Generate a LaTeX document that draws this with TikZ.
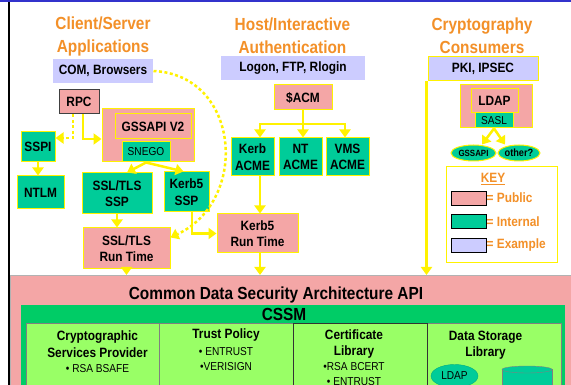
\documentclass[tikz,border=0pt]{standalone}
\usepackage{fontspec}
\setmainfont{Liberation Sans}[FakeStretch=0.88]
\usetikzlibrary{arrows.meta,shapes.geometric}

\definecolor{pubpink}{HTML}{F4A6A6}
\definecolor{intgreen}{HTML}{00CC99}
\definecolor{exblue}{HTML}{CCCCFF}
\definecolor{hdorange}{HTML}{F39028}
\definecolor{cssmgreen}{HTML}{00CC66}
\definecolor{libgreen}{HTML}{99FF66}
\definecolor{topblue}{HTML}{3333CC}

\newcommand{\boxfont}{\bfseries\fontsize{13.5}{16.5}\selectfont}
\newcommand{\smallfont}{\fontsize{11.5}{15}\selectfont}
\newcommand{\headfont}{\bfseries\fontsize{17.5}{23}\selectfont}

\tikzset{
  pubbox/.style={draw=yellow, line width=1pt, fill=pubpink, inner sep=0pt, align=center, font=\boxfont},
  intbox/.style={pubbox, fill=intgreen},
  exbox/.style={pubbox, draw=none, fill=exblue},
  heading/.style={text=hdorange, align=center, font=\headfont},
  arr/.style={draw=yellow, line width=2.5pt, -{Triangle[width=11pt,length=8pt]}},
  dotarr/.style={arr, dash pattern=on 3pt off 2.5pt},
  swatch/.style={draw=black, line width=0.8pt, minimum width=35pt, minimum height=14pt},
  keylabel/.style={text=hdorange, anchor=west, inner sep=0pt, font=\boxfont},
  cell/.style={draw=gray, line width=0.6pt, fill=libgreen, anchor=north west, minimum width=134pt, minimum height=80pt},
  celltext/.style={align=center, inner sep=0pt},
}

\begin{document}
\begin{tikzpicture}[x=1pt,y=-1pt]
  \useasboundingbox (0,0) rectangle (571,385);
  \clip (0,0) rectangle (571,385);
  \fill[white] (0,0) rectangle (571,385);
  \fill[topblue] (0,0) rectangle (571,2.5);
  \fill[black] (7.5,2.5) rectangle (10,385);

  % Column headings
  \node[heading] (hdcs) at (103,36) {Client/Server\\Applications};
  \node[heading] (hdhost) at (292.5,36) {Host/Interactive\\Authentication};
  \node[heading] (hdcrypt) at (482,36) {Cryptography\\Consumers};

  % Example applications
  \node[exbox, minimum width=100pt, minimum height=24pt] (com) at (103,71) {COM, Browsers};
  \node[exbox, minimum width=144pt, minimum height=24pt] (logon) at (293,68) {Logon, FTP, Rlogin};
  \node[exbox, draw=yellow, minimum width=110pt, minimum height=24pt] (pki) at (483,69) {PKI, IPSEC};

  % Client/server stack
  \node[pubbox, draw=black!75, minimum width=40pt, minimum height=24pt] (rpc) at (79,102) {RPC};
  \node[pubbox, minimum width=92pt, minimum height=53pt] (gssouter) at (148,135.5) {};
  \node[pubbox, minimum width=76pt, minimum height=25pt] (gssapi) at (153,126.5) {GSSAPI V2};
  \node[intbox, minimum width=48pt, minimum height=20pt, font=\smallfont] (snego) at (146,152) {SNEGO};
  \node[intbox, minimum width=34pt, minimum height=30pt] (sspi) at (38,147) {SSPI};
  \node[intbox, minimum width=47pt, minimum height=33pt] (ntlm) at (40.5,192.5) {NTLM};
  \node[intbox, minimum width=70pt, minimum height=41pt] (sslssp) at (117,193.5) {SSL/TLS\\SSP};
  \node[intbox, minimum width=45pt, minimum height=40pt] (kerbssp) at (186.5,192) {Kerb5\\SSP};
  \node[pubbox, minimum width=87pt, minimum height=41pt] (sslrt) at (126.5,248.5) {SSL/TLS\\Run Time};
  \node[pubbox, minimum width=81pt, minimum height=39pt] (kerbrt) at (257.5,233.5) {Kerb5\\Run Time};

  % Host authentication stack
  \node[pubbox, minimum width=58pt, minimum height=25pt] (acm) at (303,97.5) {\$ACM};
  \node[intbox, minimum width=43pt, minimum height=38pt] (kerbacme) at (252.5,157) {Kerb\\ACME};
  \node[intbox, minimum width=43pt, minimum height=38pt] (ntacme) at (300.5,157) {NT\\ACME};
  \node[intbox, minimum width=43pt, minimum height=38pt] (vmsacme) at (347.5,157) {VMS\\ACME};

  % Cryptography consumers
  \node[pubbox, minimum width=72pt, minimum height=43pt] (ldapouter) at (496,106.5) {};
  \node[pubbox, minimum width=47pt, minimum height=24pt] (ldap) at (494.5,101) {LDAP};
  \node[intbox, minimum width=38pt, minimum height=15pt, font=\smallfont] (sasl) at (494,120.5) {SASL};
  \node[intbox, ellipse, minimum width=45pt, minimum height=16pt, font=\bfseries\fontsize{9}{10}\selectfont] (gssell) at (473.5,153) {GSSAPI};
  \node[intbox, ellipse, minimum width=42pt, minimum height=16pt, font=\bfseries\fontsize{10.5}{11}\selectfont] (otherell) at (519,153) {other?};

  % Key
  \node[draw=yellow, line width=0.8pt, fill=white, minimum width=111pt, minimum height=96pt] (keybox) at (501.5,214) {};
  \node[text=hdorange, font=\boxfont, inner sep=0pt] (keytitle) at (493,179) {\underline{KEY}};
  \node[swatch, fill=pubpink] (keypub) at (468.5,198) {};
  \node[swatch, fill=intgreen] (keyint) at (468.5,221.5) {};
  \node[swatch, fill=exblue] (keyex) at (468.5,245.5) {};
  \node[keylabel] (lblpub) at (keypub.east) {= Public};
  \node[keylabel] (lblint) at (keyint.east) {= Internal};
  \node[keylabel] (lblex) at (keyex.east) {= Example};

  % CDSA / CSSM
  \node[draw=gray!60, line width=1pt, fill=pubpink, anchor=north west, minimum width=562pt, minimum height=120pt] (cdsa) at (10,275) {};
  \node[font=\headfont, inner sep=0pt] (cdsatitle) at (276,295) {Common Data Security Architecture API};
  \node[fill=cssmgreen, anchor=north west, minimum width=544pt, minimum height=90pt] (cssm) at (21,305) {};
  \node[font=\headfont, inner sep=0pt] (cssmtitle) at (284,314.5) {CSSM};
  \node[cell] (cellcsp) at (26,323) {};
  \node[cell] (celltp) at (159,323) {};
  \node[cell] (celldl) at (427,323) {};
  \node[cell, draw=black!80, line width=0.9pt] (cellcl) at (293,323) {};

  \node[celltext, font=\boxfont] (csphead) at (97.5,344) {Cryptographic\\Services Provider};
  \node[celltext, font=\smallfont] (cspitem) at (97.5,369) {• RSA BSAFE};
  \node[celltext, font=\boxfont] (tphead) at (226,335) {Trust Policy};
  \node[celltext, font=\smallfont] (tpitems) at (226,359) {• ENTRUST\\•VERISIGN};
  \node[celltext, font=\boxfont] (clhead) at (354,344) {Certificate\\Library};
  \node[celltext, font=\smallfont, anchor=north] (clitems) at (354,362) {•RSA BCERT\\• ENTRUST};
  \node[celltext, font=\boxfont] (dlhead) at (485.5,345) {Data Storage\\Library};
  \node[ellipse, fill=intgreen, draw=intgreen!85!black, minimum width=47pt, minimum height=23pt, inner sep=0pt, font=\smallfont] (ldapdb) at (454.5,376) {LDAP};
  \filldraw[fill=intgreen, draw=gray] (502,369.5) rectangle (552,400);
  \filldraw[fill=intgreen, draw=gray] (527,369.5) ellipse (25 and 3.5);

  % Connectors
  \draw[dotarr] ([xshift=-6pt]rpc.south) |- ([yshift=9pt]sspi.east);
  \draw[arr] ([xshift=4pt]rpc.south) |- ([yshift=-3.5pt]gssouter.west);
  \draw[arr] (sspi.south) -- (sspi.south |- ntlm.north);
  \draw[arr] (snego.south) -- ([xshift=10pt]sslssp.north);
  \draw[arr] (snego.south) -- ([xshift=-3pt]kerbssp.north);
  \draw[arr] (sslssp.south) -- (sslssp.south |- sslrt.north);
  \draw[arr] ([xshift=5.5pt]kerbssp.south) |- (kerbrt.west);
  \draw[dotarr] (com.east) .. controls (240,75) and (250,200) .. ([yshift=11pt]sslrt.east);

  \coordinate (acmbar) at (303,124);
  \draw[arr, -] (acm.south) -- (acmbar);
  \draw[arr] (acmbar) -| ([xshift=7.5pt]kerbacme.north);
  \draw[arr] (acmbar) -- (acmbar |- ntacme.north);
  \draw[arr] (acmbar) -| ([xshift=-2.5pt]vmsacme.north);
  \draw[arr] ([xshift=7.5pt]kerbacme.south) -- ([xshift=7.5pt]kerbacme.south |- kerbrt.north);

  \draw[arr] (sasl.south) -- ([xshift=8.5pt]gssell.north);
  \draw[arr] (sasl.south) -- ([xshift=-14pt]otherell.north);

  \draw[arr] (sslrt.south) -- (sslrt.south |- cdsa.north);
  \draw[arr] ([xshift=2.5pt]kerbrt.south) -- ([xshift=2.5pt]kerbrt.south |- cdsa.north);
  \draw[arr] ([xshift=-1pt]pki.south west) -- ([xshift=-1pt]pki.south west |- cdsa.north);
\end{tikzpicture}
\end{document}
